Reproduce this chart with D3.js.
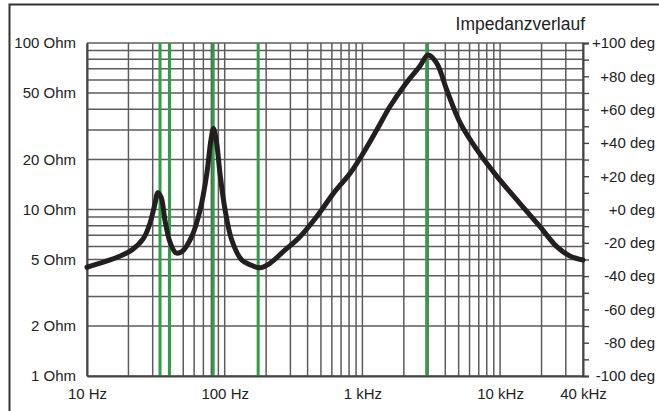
<!DOCTYPE html>
<html>
<head>
<meta charset="utf-8">
<script src="https://cdn.jsdelivr.net/npm/d3@7"></script>
<style>
  html, body { margin: 0; padding: 0; background: #fff; }
  svg text { font-family: "Liberation Sans", Arial, sans-serif; fill: #222; }
</style>
</head>
<body>
<div id="chart"></div>
<script>
// impedance curve (Hz, Ohm)
const freqs = [10, 13.5, 16.9, 21.1, 25.7, 28.7, 31.2, 32.6, 34.5, 36.8, 40, 44.1, 48.8, 57.6, 66.3,
  74.2, 79.4, 82.9, 87.4, 92.4, 100.7, 112.5, 133, 155, 180, 213, 266, 352, 465, 616, 814, 1014,
  1270, 1582, 2075, 2596, 3000, 3470, 4100, 5140, 6800, 9550, 13900, 19500, 25800, 32100, 40000];
const impedance = [4.5, 4.86, 5.2, 5.7, 6.7, 8.3, 10.9, 12.6, 11.9, 8.65, 6.4, 5.5, 5.58, 6.87, 9.93,
  16.5, 26.1, 30.7, 25, 16.5, 9.93, 6.56, 4.97, 4.64, 4.47, 4.75, 5.58, 6.87, 9.05, 12.5, 16.5, 21.8,
  30, 41.4, 57.3, 72, 84.7, 75.5, 52.2, 33, 22.8, 15.7, 10.9, 7.88, 5.98, 5.26, 4.97];

// green marker frequencies
const markers = [33.9, 39.7, 82.5, 175, 2930];

const freqTicks = [10, 100, 1000, 10000, 40000];
const freqLabels = ["10 Hz", "100 Hz", "1 kHz", "10 kHz", "40 kHz"];
const ohmTicks = [1, 2, 5, 10, 20, 50, 100];
const title = "Impedanzverlauf";

const width = 659, height = 411;
const margin = { top: 43, right: 76, bottom: 35, left: 87 };

const svg = d3.select("#chart").append("svg")
  .attr("width", width)
  .attr("height", height);

const x = d3.scaleLog().domain([10, 40000]).range([margin.left, width - margin.right]);
const y = d3.scaleLog().domain([1, 100]).range([height - margin.bottom, margin.top]);
const yDeg = d3.scaleLinear().domain([-100, 100]).range([height - margin.bottom, margin.top]);

// outer frame (top + left only)
svg.append("path")
  .attr("d", `M9.5,${height} V4.5 H${width}`)
  .attr("fill", "none")
  .attr("stroke", "#333")
  .attr("stroke-width", 2);

// grid
const grid = svg.append("g").attr("stroke", "#5c5c5c").attr("stroke-width", 1.5);
grid.selectAll(".vg").data(x.ticks()).enter().append("line")
  .attr("x1", d => x(d)).attr("x2", d => x(d))
  .attr("y1", y(100)).attr("y2", y(1));
grid.selectAll(".hg").data(y.ticks()).enter().append("line")
  .attr("x1", x(10)).attr("x2", x(40000))
  .attr("y1", d => y(d)).attr("y2", d => y(d));

// green markers
svg.selectAll(".marker").data(markers).enter().append("line")
  .attr("x1", d => x(d)).attr("x2", d => x(d))
  .attr("y1", y(100)).attr("y2", y(1))
  .attr("stroke", "#2f9e44")
  .attr("stroke-width", 3);

// left axis
const left = svg.append("g")
  .attr("transform", `translate(${margin.left},0)`)
  .call(d3.axisLeft(y).tickValues(ohmTicks).tickSize(0).tickPadding(11).tickFormat(d => d + " Ohm"));
left.select(".domain").attr("stroke", "#444").attr("stroke-width", 2);
left.selectAll("text").style("font-size", "15px").attr("fill", "#222");

// bottom axis
const bottom = svg.append("g")
  .attr("transform", `translate(0,${height - margin.bottom})`)
  .call(d3.axisBottom(x).tickValues(freqTicks).tickSize(0).tickPadding(12)
    .tickFormat((d, i) => freqLabels[i]));
bottom.select(".domain").attr("stroke", "#444").attr("stroke-width", 2);
bottom.selectAll("text").style("font-size", "15px").attr("fill", "#222");

// right axis (phase)
const right = svg.append("g")
  .attr("transform", `translate(${width - margin.right},0)`)
  .call(d3.axisRight(yDeg).ticks(20).tickSize(6).tickFormat(d => (d % 20 === 0) ? (d >= 0 ? "+" : "") + d + " deg" : ""));
right.select(".domain").attr("stroke", "#444").attr("stroke-width", 2);
right.selectAll("line").attr("stroke", "#444").attr("stroke-width", 1.4);
right.selectAll("text")
  .attr("text-anchor", "end")
  .attr("x", 72)
  .style("font-size", "15px")
  .attr("fill", "#222");

// impedance curve
const line = d3.line()
  .x((d, i) => x(freqs[i]))
  .y(d => y(d))
  .curve(d3.curveCatmullRom.alpha(0.5));

svg.append("path")
  .datum(impedance)
  .attr("d", line)
  .attr("fill", "none")
  .attr("stroke", "#231f1f")
  .attr("stroke-width", 5)
  .attr("stroke-linejoin", "round")
  .attr("stroke-linecap", "round");

// title
svg.append("text")
  .attr("x", 585)
  .attr("y", 30)
  .attr("text-anchor", "end")
  .style("font-size", "17.5px")
  .text(title);
</script>
</body>
</html>
